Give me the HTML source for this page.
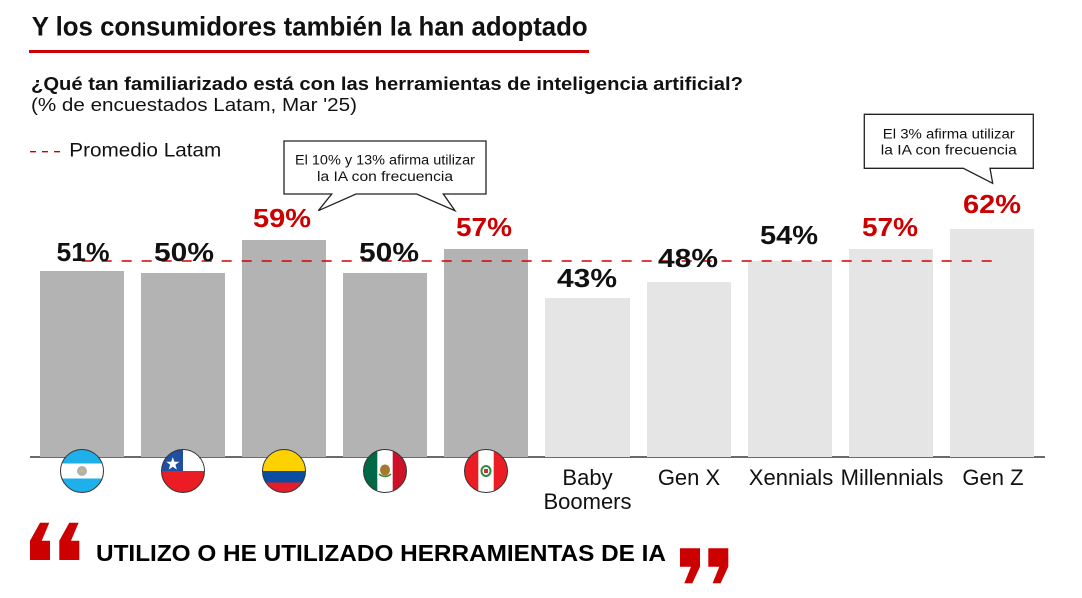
<!DOCTYPE html>
<html><head><meta charset="utf-8"><style>
html,body{margin:0;padding:0;background:#fff;}
svg{display:block;font-family:"Liberation Sans",Arial,sans-serif;}
</style></head><body>
<svg width="1082" height="598" viewBox="0 0 1082 598" xmlns="http://www.w3.org/2000/svg">
<defs>
<clipPath id="c1"><circle cx="82" cy="471" r="21.5"/></clipPath>
<clipPath id="c2"><circle cx="183" cy="471" r="21.5"/></clipPath>
<clipPath id="c3"><circle cx="284" cy="471" r="21.5"/></clipPath>
<clipPath id="c4"><circle cx="385" cy="471" r="21.5"/></clipPath>
<clipPath id="c5"><circle cx="486" cy="471" r="21.5"/></clipPath>
</defs>
<rect width="1082" height="598" fill="#fff"/>

<!-- Title -->
<text x="31.7" y="35.7" font-size="26.5" font-weight="bold" fill="#111" textLength="556" lengthAdjust="spacingAndGlyphs">Y los consumidores también la han adoptado</text>
<rect x="29" y="50" width="560" height="3" fill="#cc0000"/>

<text x="31" y="90" font-size="18.5" font-weight="bold" fill="#111" textLength="712" lengthAdjust="spacingAndGlyphs">¿Qué tan familiarizado está con las herramientas de inteligencia artificial?</text>
<text x="31" y="111" font-size="18.5" fill="#111" textLength="326" lengthAdjust="spacingAndGlyphs">(% de encuestados Latam, Mar '25)</text>

<!-- Legend -->
<line x1="30" y1="151.7" x2="60" y2="151.7" stroke="#cc0000" stroke-width="1.3" stroke-dasharray="6 6"/>
<text x="69.3" y="156.7" font-size="19.5" fill="#111" textLength="152" lengthAdjust="spacingAndGlyphs">Promedio Latam</text>

<!-- baseline -->
<line x1="30" y1="457" x2="1045" y2="457" stroke="#111" stroke-width="1.2"/>

<!-- Bars -->
<rect x="40" y="271" width="84" height="186" fill="#b3b3b3"/>
<rect x="141" y="273" width="84" height="184" fill="#b3b3b3"/>
<rect x="242" y="240" width="84" height="217" fill="#b3b3b3"/>
<rect x="343" y="273" width="84" height="184" fill="#b3b3b3"/>
<rect x="444" y="249" width="84" height="208" fill="#b3b3b3"/>
<rect x="545" y="298" width="85" height="159" fill="#e5e5e5"/>
<rect x="647" y="282" width="84" height="175" fill="#e5e5e5"/>
<rect x="748" y="261" width="84" height="196" fill="#e5e5e5"/>
<rect x="849" y="249" width="84" height="208" fill="#e5e5e5"/>
<rect x="950" y="229" width="84" height="228" fill="#e5e5e5"/>

<!-- Average dashed line -->
<line x1="81.7" y1="261" x2="992" y2="261" stroke="#d40000" stroke-width="1.6" stroke-dasharray="10 10"/>

<!-- Value labels -->
<g font-size="26" font-weight="bold" text-anchor="middle" lengthAdjust="spacingAndGlyphs">
<text x="83" y="261" fill="#111" textLength="53" lengthAdjust="spacingAndGlyphs">51%</text>
<text x="184" y="261" fill="#111" textLength="60" lengthAdjust="spacingAndGlyphs">50%</text>
<text x="282" y="227" fill="#cc0000" textLength="58" lengthAdjust="spacingAndGlyphs">59%</text>
<text x="389" y="261" fill="#111" textLength="60" lengthAdjust="spacingAndGlyphs">50%</text>
<text x="484" y="236" fill="#cc0000" textLength="56" lengthAdjust="spacingAndGlyphs">57%</text>
<text x="587" y="287" fill="#111" textLength="60" lengthAdjust="spacingAndGlyphs">43%</text>
<text x="688" y="267" fill="#111" textLength="60" lengthAdjust="spacingAndGlyphs">48%</text>
<text x="789" y="244" fill="#111" textLength="58" lengthAdjust="spacingAndGlyphs">54%</text>
<text x="890" y="236" fill="#cc0000" textLength="56" lengthAdjust="spacingAndGlyphs">57%</text>
<text x="992" y="213" fill="#cc0000" textLength="58" lengthAdjust="spacingAndGlyphs">62%</text>
</g>

<!-- Callout 1 -->
<path d="M284,141 H486 V194 H443.3 L455,210.7 L416.7,194 H356 L318.3,210.7 L331.7,194 H284 Z" fill="#fff" stroke="#222" stroke-width="1.3"/>
<text x="385" y="164.3" font-size="13.5" fill="#111" text-anchor="middle" textLength="180" lengthAdjust="spacingAndGlyphs">El 10% y 13% afirma utilizar</text>
<text x="385" y="181" font-size="13.5" fill="#111" text-anchor="middle" textLength="136" lengthAdjust="spacingAndGlyphs">la IA con frecuencia</text>

<!-- Callout 2 -->
<path d="M864.3,114.3 H1033.3 V168.3 H990 L992.7,183.3 L963.3,168.3 H864.3 Z" fill="#fff" stroke="#222" stroke-width="1.3"/>
<text x="948.8" y="138.3" font-size="13.5" fill="#111" text-anchor="middle" textLength="132" lengthAdjust="spacingAndGlyphs">El 3% afirma utilizar</text>
<text x="948.8" y="154.3" font-size="13.5" fill="#111" text-anchor="middle" textLength="136" lengthAdjust="spacingAndGlyphs">la IA con frecuencia</text>

<!-- Flags -->
<!-- Argentina -->
<g clip-path="url(#c1)">
<rect x="60" y="449" width="44" height="44" fill="#fff"/>
<rect x="60" y="449" width="44" height="14.5" fill="#1fb0ec"/>
<rect x="60" y="478.5" width="44" height="14.5" fill="#1fb0ec"/>
<circle cx="82" cy="471" r="5" fill="#b0b0b0"/>
<circle cx="82" cy="471" r="1.5" fill="#d8b84a"/>
</g>
<circle cx="82" cy="471" r="21.5" fill="none" stroke="#333" stroke-width="1"/>
<!-- Chile -->
<g clip-path="url(#c2)">
<rect x="161" y="449" width="44" height="22" fill="#fff"/>
<rect x="161" y="449" width="22" height="22" fill="#1f4fa0"/>
<rect x="161" y="471" width="44" height="22" fill="#ec1c24"/>
<polygon points="172.8,457 174.4,461.8 179.4,461.8 175.4,464.8 176.9,469.6 172.8,466.7 168.7,469.6 170.2,464.8 166.2,461.8 171.2,461.8" fill="#fff"/>
</g>
<circle cx="183" cy="471" r="21.5" fill="none" stroke="#333" stroke-width="1"/>
<!-- Colombia -->
<g clip-path="url(#c3)">
<rect x="262" y="449" width="44" height="22" fill="#fdd200"/>
<rect x="262" y="471" width="44" height="11.5" fill="#0a4da2"/>
<rect x="262" y="482.5" width="44" height="11" fill="#e51d2a"/>
</g>
<circle cx="284" cy="471" r="21.5" fill="none" stroke="#333" stroke-width="1"/>
<!-- Mexico -->
<g clip-path="url(#c4)">
<rect x="363" y="449" width="44" height="44" fill="#fff"/>
<rect x="363" y="449" width="14.3" height="44" fill="#006847"/>
<rect x="392.7" y="449" width="14.3" height="44" fill="#ce1126"/>
<ellipse cx="385" cy="470" rx="5" ry="5.5" fill="#a8782c"/>
<path d="M379,474 Q385,479 391,474" fill="none" stroke="#3a8a3a" stroke-width="1.5"/>
</g>
<circle cx="385" cy="471" r="21.5" fill="none" stroke="#333" stroke-width="1"/>
<!-- Peru -->
<g clip-path="url(#c5)">
<rect x="464" y="449" width="44" height="44" fill="#fff"/>
<rect x="464" y="449" width="14.3" height="44" fill="#ec1c24"/>
<rect x="493.7" y="449" width="14.3" height="44" fill="#ec1c24"/>
<ellipse cx="486" cy="471" rx="4.5" ry="5" fill="#fff" stroke="#2e8b3a" stroke-width="2"/>
<rect x="484" y="469" width="4" height="4" fill="#c33"/>
</g>
<circle cx="486" cy="471" r="21.5" fill="none" stroke="#333" stroke-width="1"/>

<!-- Category labels -->
<g font-size="22" fill="#111" text-anchor="middle">
<text x="587.5" y="485">Baby</text>
<text x="587.5" y="509">Boomers</text>
<text x="689" y="485">Gen X</text>
<text x="791" y="485">Xennials</text>
<text x="892" y="485">Millennials</text>
<text x="993" y="485">Gen Z</text>
</g>

<!-- Quote -->
<g fill="#cc0000">
<polygon points="40,522.7 49.3,522.7 41.7,540.7 50,540.7 50,560 30,560 30,540.7"/>
<polygon points="69.3,522.7 78.6,522.7 71,540.7 79.3,540.7 79.3,560 59.3,560 59.3,540.7"/>
<polygon points="680,548.3 700,548.3 700,566.7 692.3,583.3 684.3,583.3 691,566.7 680,566.7"/>
<polygon points="708.3,548.3 728.3,548.3 728.3,566.7 720.6,583.3 712.6,583.3 719.3,566.7 708.3,566.7"/>
</g>
<text x="96" y="561" font-size="23.5" font-weight="bold" fill="#000" textLength="570" lengthAdjust="spacingAndGlyphs">UTILIZO O HE UTILIZADO HERRAMIENTAS DE IA</text>
</svg>
</body></html>
